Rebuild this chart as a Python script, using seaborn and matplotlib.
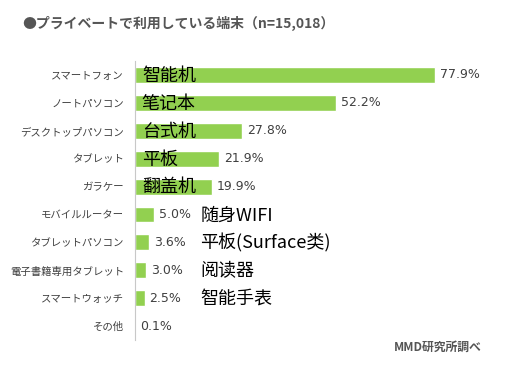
import matplotlib
matplotlib.use("Agg")
import matplotlib.pyplot as plt
import seaborn as sns

devices = ["スマートフォン", "ノートパソコン", "デスクトップパソコン", "タブレット", "ガラケー",
           "モバイルルーター", "タブレットパソコン", "電子書籍専用タブレット", "スマートウォッチ", "その他"]
shares = [77.9, 52.2, 27.8, 21.9, 19.9, 5.0, 3.6, 3.0, 2.5, 0.1]
notes = ["智能机", "笔记本", "台式机", "平板", "翻盖机", "随身WIFI", "平板(Surface类)", "阅读器", "智能手表", ""]

TITLE = "●プライベートで利用している端末（n=15,018）"
SOURCE = "MMD研究所調べ"

sns.set_theme(style="white")
plt.rcParams["font.family"] = ["Noto Sans CJK JP", "DejaVu Sans"]

fig = plt.figure(figsize=(5.19, 3.70), dpi=100)
ax = fig.add_axes([0.26, 0.081, 0.742, 0.754])

sns.barplot(x=shares, y=devices, color="#92D050", saturation=1, width=0.57, ax=ax)

ax.set_xlim(0, 100)
ax.set_ylim(9.5, -0.5)
ax.set_xticks([])
ax.set_xlabel("")
ax.set_ylabel("")
ax.tick_params(axis="y", length=0, pad=8, labelsize=7.5, labelcolor="#404040")
for s in ["top", "right", "bottom"]:
    ax.spines[s].set_visible(False)
ax.spines["left"].set_color("#C8C8C8")
ax.spines["left"].set_linewidth(0.8)

for i, (v, note) in enumerate(zip(shares, notes)):
    ax.text(v + 1.3, i, f"{v:.1f}%", va="center", ha="left", fontsize=9,
            color="#404040", family=["DejaVu Sans"])
    if note:
        nx = 1.8 if v > 15 else 17
        ax.text(nx, i + 0.03, note, va="center", ha="left", fontsize=13,
                color="black", family=["Noto Sans CJK SC", "DejaVu Sans"])

fig.text(22 / 519, 1 - 23 / 370, TITLE, fontsize=10, fontweight="bold",
         color="#555555", va="center", ha="left")
fig.text(482 / 519, 1 - 347 / 370, SOURCE, fontsize=8.5, fontweight="bold",
         color="#555555", va="center", ha="right")

fig.savefig("out.png", dpi=100)
